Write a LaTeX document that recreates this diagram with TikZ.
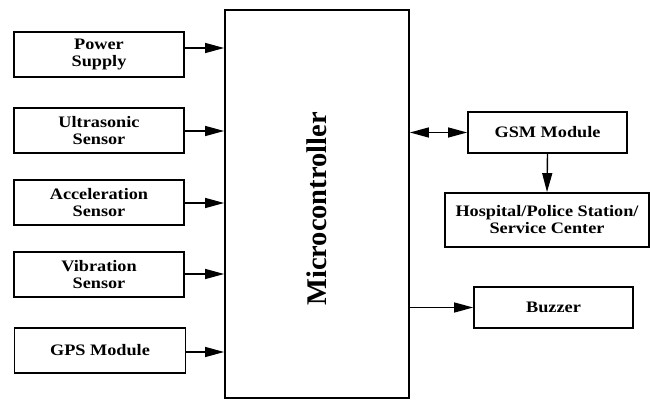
\documentclass[tikz,border=0pt]{standalone}
\usepackage{fontspec}
\setmainfont{Liberation Serif}[FakeStretch=1.14]
\newfontfamily\bigfont{Liberation Serif}
\usetikzlibrary{arrows.meta}
\begin{document}
\begin{tikzpicture}[x=1pt,y=-1pt,
  blk/.style={draw,line width=1.8pt,inner sep=0pt,align=center,
    font=\fontsize{16}{17}\selectfont\bfseries},
  conn/.style={line width=1.4pt,-{Triangle[length=19pt,width=10pt]}},
  dconn/.style={line width=1.4pt,{Triangle[length=19pt,width=10pt]}-{Triangle[length=19pt,width=10pt]}}]
\useasboundingbox (0,0) rectangle (650,403);
% microcontroller
\node[blk,minimum width=184pt,minimum height=388pt] (mc) at (317,204) {};
\node[rotate=90,font=\bigfont\fontsize{28.5}{30}\selectfont\bfseries] (mct) at (317,209) {Microcontroller};
% left boxes
\node[blk,minimum width=170pt,minimum height=45pt] (ps) at (99,54.5) {Power\\Supply};
\node[blk,minimum width=170pt,minimum height=45pt] (us) at (99,130.5) {Ultrasonic\\Sensor};
\node[blk,minimum width=170pt,minimum height=45pt] (ac) at (99,202.5) {Acceleration\\Sensor};
\node[blk,minimum width=170pt,minimum height=45pt] (vb) at (99,274.5) {Vibration\\Sensor};
\node[blk,minimum width=171pt,minimum height=45pt] (gps) at (100,350.5) {GPS Module};
% right boxes
\node[blk,minimum width=159pt,minimum height=41pt] (gsm) at (547.5,132.5) {GSM Module};
\node[blk,minimum width=204pt,minimum height=54pt] (hos) at (547,220) {Hospital/Police Station/\\Service Center};
\node[blk,minimum width=159pt,minimum height=41pt] (bz) at (553.5,307.5) {Buzzer};
% connectors
\draw[conn] (ps.east |- 0,48) -- (mc.west |- 0,48);
\draw[conn] (us.east |- 0,131) -- (mc.west |- 0,131);
\draw[conn] (ac.east |- 0,203) -- (mc.west |- 0,203);
\draw[conn] (vb.east |- 0,274) -- (mc.west |- 0,274);
\draw[conn] (gps.east |- 0,352) -- (mc.west |- 0,352);
\draw[dconn] (mc.east |- gsm.west) -- (gsm.west);
\draw[conn] (gsm.south) -- (hos.north);
\draw[conn] (mc.east |- bz.west) -- (bz.west);
\end{tikzpicture}
\end{document}
